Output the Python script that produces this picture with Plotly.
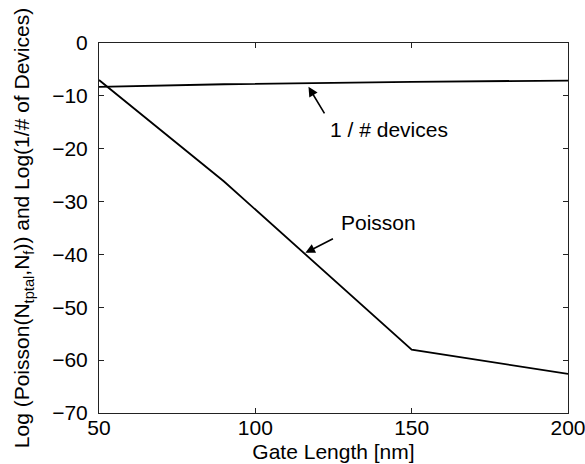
import plotly.graph_objects as go

gate_length_devices = [50, 90, 150, 200]
log_inv_devices = [-8.3, -7.8, -7.35, -7.1]

gate_length_poisson = [50, 90, 150, 200]
log_poisson = [-7.0, -26.2, -58.0, -62.6]

x_ticks = [50, 100, 150, 200]
y_ticks = [0, -10, -20, -30, -40, -50, -60, -70]

fig = go.Figure()
fig.add_trace(go.Scatter(x=gate_length_devices, y=log_inv_devices, mode="lines",
                         line=dict(color="black", width=1.8), showlegend=False))
fig.add_trace(go.Scatter(x=gate_length_poisson, y=log_poisson, mode="lines",
                         line=dict(color="black", width=1.8), showlegend=False))

font_family = "Liberation Sans, Arial, sans-serif"

fig.add_annotation(x=117, y=-8.3, ax=122.4, ay=-13.6, axref="x", ayref="y",
                   text="", showarrow=True, arrowhead=2, arrowsize=1.2, arrowwidth=1.6,
                   arrowcolor="black")
fig.add_annotation(x=142.6, y=-16.4, text="1 / # devices", showarrow=False,
                   font=dict(size=21, color="black", family=font_family))
fig.add_annotation(x=116, y=-39.7, ax=125.3, ay=-36.9, axref="x", ayref="y",
                   text="", showarrow=True, arrowhead=2, arrowsize=1.2, arrowwidth=1.6,
                   arrowcolor="black")
fig.add_annotation(x=139.4, y=-34, text="Poisson", showarrow=False,
                   font=dict(size=21, color="black", family=font_family))

axis_common = dict(showgrid=False, zeroline=False, showline=True, linecolor="#222",
                   linewidth=1, mirror="ticks", ticks="inside", ticklen=5,
                   tickcolor="#222", automargin=False, ticklabeloverflow="allow",
                   tickfont=dict(size=21, color="black", family=font_family))

fig.update_xaxes(range=[50, 200], tickvals=x_ticks, ticktext=[str(v) for v in x_ticks],
                 title=dict(text="Gate Length [nm]", standoff=6,
                            font=dict(size=21, color="black", family=font_family)),
                 ticklabelstandoff=-4,
                 **axis_common)
fig.update_yaxes(range=[-70, 0], tickvals=y_ticks,
                 title=dict(text="Log (Poisson(N<sub>tptal</sub>,N<sub>f</sub>)) and Log(1/# of Devices)",
                            standoff=16,
                            font=dict(size=21, color="black", family=font_family)),
                 ticklabelstandoff=6,
                 **axis_common)

fig.update_layout(width=585, height=464, margin=dict(l=99, r=17, t=43, b=51),
                  plot_bgcolor="white", paper_bgcolor="white",
                  font=dict(family=font_family, color="black"))

fig.write_html("out.html")
